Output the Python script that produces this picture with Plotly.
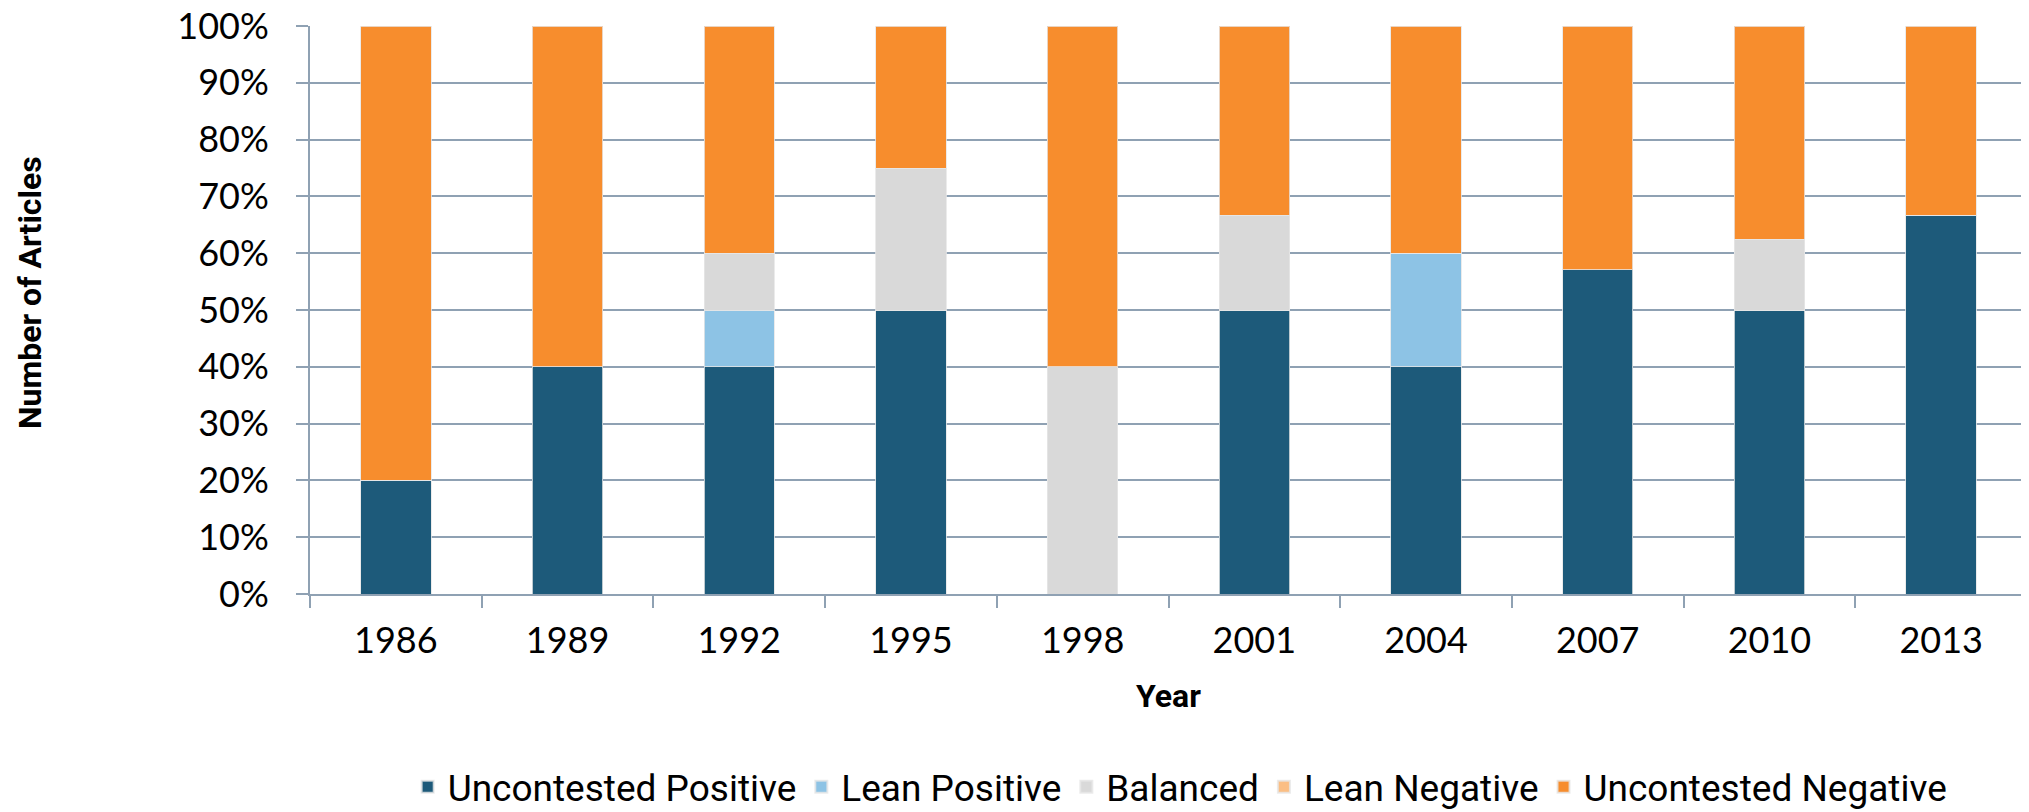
import plotly.graph_objects as go

years = ["1986", "1989", "1992", "1995", "1998", "2001", "2004", "2007", "2010", "2013"]
uncontested_positive = [20, 40, 40, 50, 0, 50, 40, 57.1, 50, 66.7]
lean_positive = [0, 0, 10, 0, 0, 0, 20, 0, 0, 0]
balanced = [0, 0, 10, 25, 40, 16.7, 0, 0, 12.5, 0]
lean_negative = [0, 0, 0, 0, 0, 0, 0, 0, 0, 0]
uncontested_negative = [80, 60, 40, 25, 60, 33.3, 40, 42.9, 37.5, 33.3]
y_ticks = [0, 10, 20, 30, 40, 50, 60, 70, 80, 90, 100]
y_ticktext = [f"{v}%" for v in y_ticks]

series = [
    ("Uncontested Positive", uncontested_positive, "#1D5A7A"),
    ("Lean Positive", lean_positive, "#8DC3E5"),
    ("Balanced", balanced, "#D9D9D9"),
    ("Lean Negative", lean_negative, "#FBBE84"),
    ("Uncontested Negative", uncontested_negative, "#F78D2D"),
]

fig = go.Figure()
for name, vals, color in series:
    fig.add_trace(go.Bar(
        x=years, y=vals, name=name,
        marker=dict(color=color, line=dict(color="rgba(230,230,230,0.8)", width=1)),
    ))

grid = "#8FA1B3"
tickfont = dict(family="Lato, Open Sans, sans-serif", size=36, color="#000000")
boldfont = dict(family="Roboto, Liberation Sans Narrow, sans-serif", size=32, color="#000000", weight="bold")

fig.update_layout(
    barmode="stack",
    bargap=0.59,
    width=2021, height=804,
    margin=dict(l=302, r=2, t=18, b=218, autoexpand=False),
    plot_bgcolor="white", paper_bgcolor="white",
    showlegend=True,
    legend=dict(
        orientation="h", xref="container", x=0.58, xanchor="center",
        yref="container", y=0.031, yanchor="middle",
        font=dict(family="Roboto, sans-serif", size=37, color="#000000"),
        traceorder="normal", itemsizing="constant",
    ),
    xaxis=dict(
        type="category", tickfont=tickfont,
        showline=True, linecolor=grid, linewidth=2,
        ticks="outside", tickson="boundaries", ticklen=12, tickcolor=grid, tickwidth=2,
        ticklabelstandoff=14,
    ),
    yaxis=dict(
        range=[0, 100.01], tickvals=y_ticks, ticktext=y_ticktext, tickfont=tickfont,
        showgrid=True, gridcolor=grid, gridwidth=2,
        showline=True, linecolor=grid, linewidth=2,
        ticks="outside", ticklen=12, tickcolor=grid, tickwidth=2,
        ticklabelstandoff=20, ticklabeloverflow="allow",
        zeroline=False,
    ),
    annotations=[
        dict(text="Year", xref="paper", yref="paper", x=0.5, y=-0.18,
             xanchor="center", yanchor="middle", showarrow=False, font=boldfont),
        dict(text="Number of Articles", xref="paper", yref="paper", x=-0.163, y=0.53,
             xanchor="center", yanchor="middle", textangle=-90, showarrow=False, font=boldfont),
    ],
)

fig.write_html("out.html")
